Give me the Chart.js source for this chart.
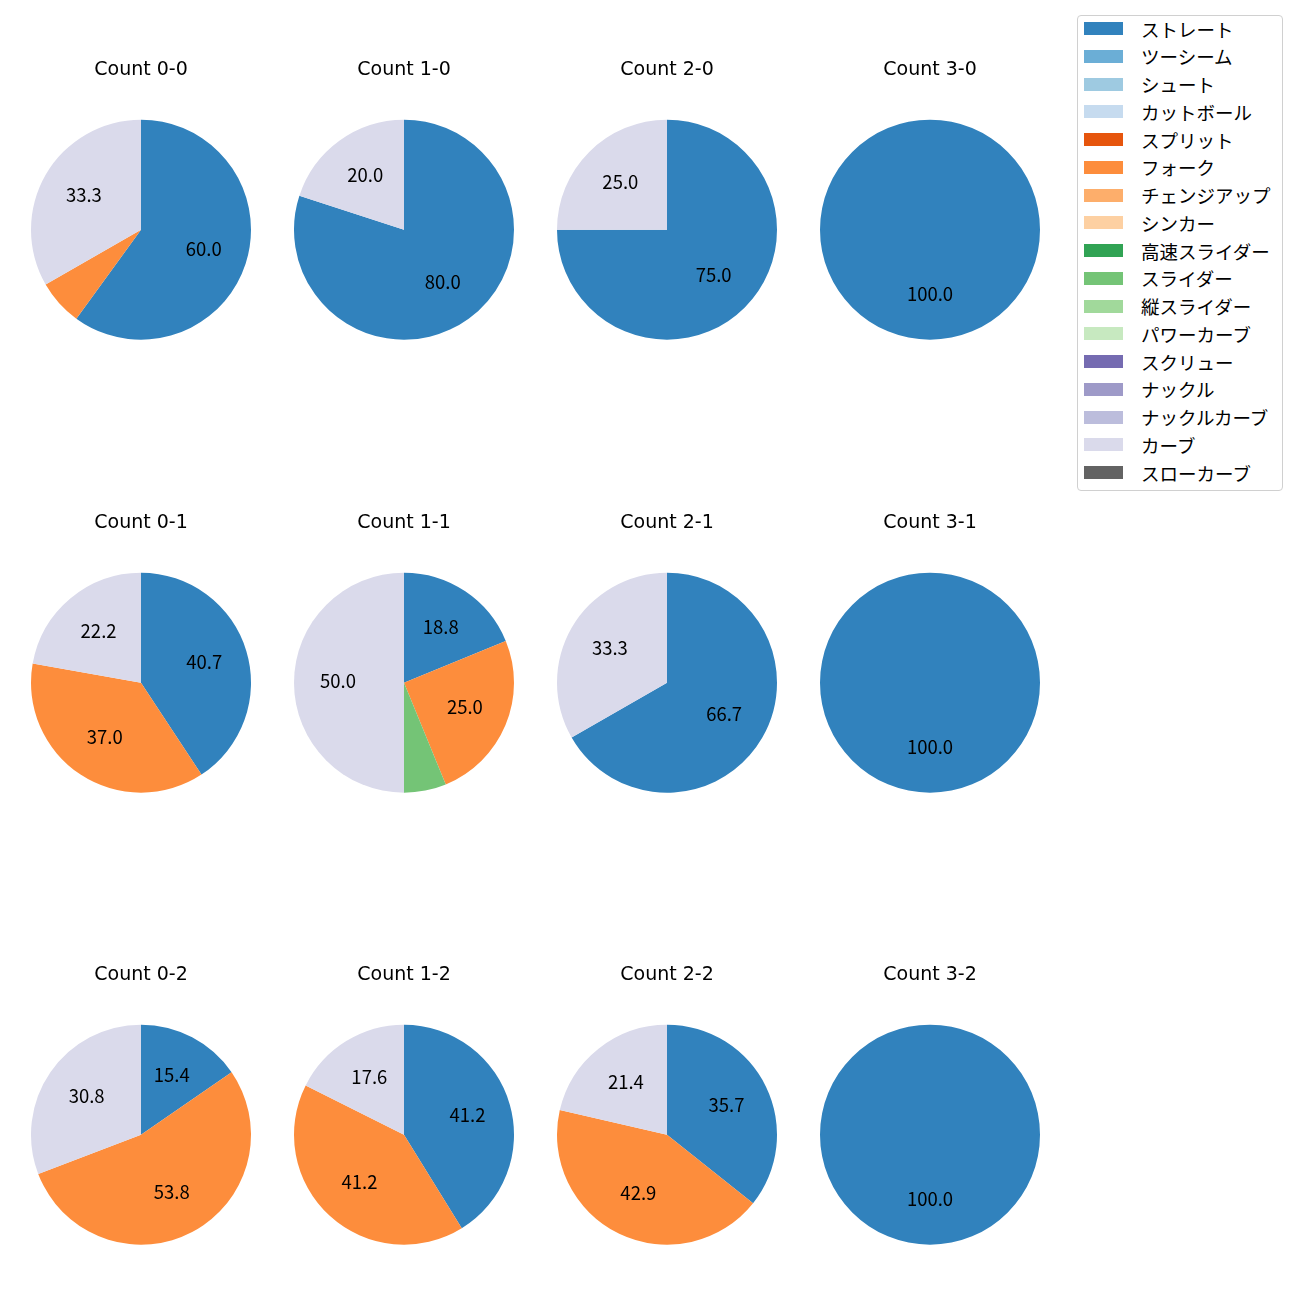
<!DOCTYPE html>
<html>
<head>
<meta charset="utf-8">
<script src="https://cdn.jsdelivr.net/npm/chart.js@4/dist/chart.umd.min.js"></script>
<style>
  body { margin: 0; background: #fff; font-family: "Noto Sans CJK JP", "Noto Sans", sans-serif; }
  #wrap { position: relative; width: 1300px; height: 1300px; }
  canvas.pie { position: absolute; }
  #legend {
    position: absolute; left: 1077px; top: 15px; width: 206px; height: 476px;
    border: 1px solid #d0d0d0; border-radius: 4px; box-sizing: border-box;
  }
  .item { position: absolute; left: 6px; height: 28px; display: flex; align-items: center; font-size: 18.5px; color: #000; white-space: nowrap; }
  .sw { width: 39px; height: 13px; margin-right: 18px; }
</style>
</head>
<body>
<div id="wrap"><div id="legend"></div></div>
<script>
// pitch types (legend order) and their colours
const pitchTypes = ['ストレート', 'ツーシーム', 'シュート', 'カットボール', 'スプリット', 'フォーク',
  'チェンジアップ', 'シンカー', '高速スライダー', 'スライダー', '縦スライダー', 'パワーカーブ',
  'スクリュー', 'ナックル', 'ナックルカーブ', 'カーブ', 'スローカーブ'];
const pitchColors = ['#3182bd', '#6baed6', '#9ecae1', '#c6dbef', '#e6550d', '#fd8d3c',
  '#fdae6b', '#fdd0a2', '#31a354', '#74c476', '#a1d99b', '#c7e9c0',
  '#756bb1', '#9e9ac8', '#bcbddc', '#dadaeb', '#636363'];

// counts, grid order (rows = strikes, cols = balls)
const counts = ['0-0', '1-0', '2-0', '3-0', '0-1', '1-1', '2-1', '3-1', '0-2', '1-2', '2-2', '3-2'];

// share (%) per count for the pitch types that appear
const straight = [60.0, 80.0, 75.0, 100.0, 40.7, 18.8, 66.7, 100.0, 15.4, 41.2, 35.7, 100.0];
const fork     = [6.7, 0, 0, 0, 37.0, 25.0, 0, 0, 53.8, 41.2, 42.9, 0];
const slider   = [0, 0, 0, 0, 0, 6.2, 0, 0, 0, 0, 0, 0];
const curve    = [33.3, 20.0, 25.0, 0, 22.2, 50.0, 33.3, 0, 30.8, 17.6, 21.4, 0];

const seriesByType = { 'ストレート': straight, 'フォーク': fork, 'スライダー': slider, 'カーブ': curve };

Chart.defaults.font.family = '"Noto Sans CJK JP", "Noto Sans", sans-serif';
Chart.defaults.color = '#000';

// percent labels inside wedges (like autopct)
const pctLabels = {
  id: 'pctLabels',
  afterDatasetsDraw(chart) {
    const ctx = chart.ctx;
    const meta = chart.getDatasetMeta(0);
    const data = chart.data.datasets[0].data;
    const size = 18.5;
    ctx.save();
    ctx.font = size + 'px "Noto Sans CJK JP", sans-serif';
    ctx.fillStyle = '#000';
    ctx.textAlign = 'center';
    ctx.textBaseline = 'alphabetic';
    meta.data.forEach((arc, i) => {
      if (data[i] < 10) return;
      const p = arc.getProps(['x', 'y', 'startAngle', 'endAngle', 'outerRadius'], true);
      const mid = (p.startAngle + p.endAngle) / 2;
      const r = p.outerRadius * 0.6;
      ctx.fillText(data[i].toFixed(1), p.x + Math.cos(mid) * r, p.y + Math.sin(mid) * r + size * 0.36 - 1);
    });
    ctx.restore();
  }
};

const colX = [141, 404, 667, 930];
const rowTitleY = [68, 521, 973];
const wrap = document.getElementById('wrap');

counts.forEach((c, k) => {
  const col = k % 4, row = Math.floor(k / 4);
  const cv = document.createElement('canvas');
  cv.className = 'pie';
  cv.width = 240; cv.height = 281;
  cv.style.left = (colX[col] - 120) + 'px';
  cv.style.top = (rowTitleY[row] - 9.4) + 'px';
  cv.style.width = '240px'; cv.style.height = '281px';
  wrap.appendChild(cv);

  const values = pitchTypes.map(t => seriesByType[t] ? seriesByType[t][k] : 0);
  new Chart(cv, {
    type: 'pie',
    data: {
      labels: pitchTypes,
      datasets: [{ data: values, backgroundColor: pitchColors, borderWidth: 0 }]
    },
    options: {
      responsive: false,
      animation: false,
      layout: { padding: { left: 10, right: 10, top: 0, bottom: 0 } },
      plugins: {
        legend: { display: false },
        tooltip: { enabled: false },
        title: {
          display: true,
          text: 'Count ' + c,
          font: { family: '"DejaVu Sans", sans-serif', size: 19, weight: 'normal', lineHeight: 1.2 },
          padding: { top: 0, bottom: 37.6 }
        }
      }
    },
    plugins: [pctLabels]
  });
});

// legend
const legend = document.getElementById('legend');
pitchTypes.forEach((t, i) => {
  const it = document.createElement('div');
  it.className = 'item';
  it.style.top = (-1.5 + i * 27.75) + 'px';
  it.innerHTML = '<span class="sw" style="background:' + pitchColors[i] + '"></span><span>' + t + '</span>';
  legend.appendChild(it);
});
</script>
</body>
</html>
